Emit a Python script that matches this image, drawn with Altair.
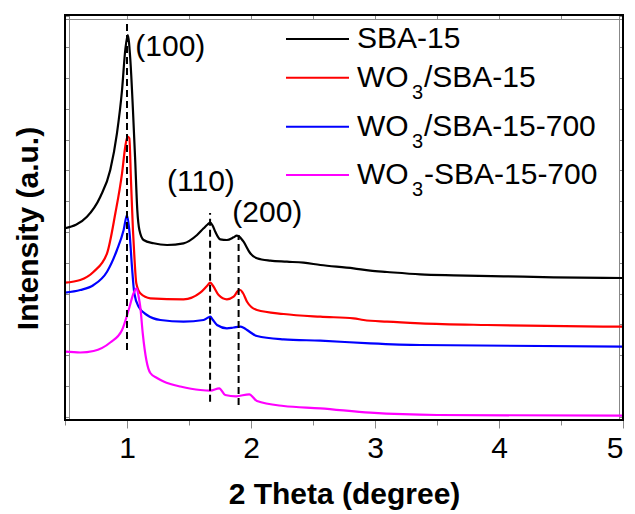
import altair as alt
import pandas as pd

# ---------------- data ----------------
series_names = ["SBA-15", "WO3/SBA-15", "WO3/SBA-15-700", "WO3-SBA-15-700"]
series_colors = ["#000000", "#FF0000", "#0000FF", "#FF00FF"]

sba_x = [0.50, 0.677, 0.785, 0.865, 0.919, 0.96, 0.986, 1.006, 1.027, 1.048, 1.066, 1.083,
         1.10, 1.134, 1.215, 1.323, 1.456, 1.565, 1.618, 1.65, 1.672, 1.69, 1.712, 1.752,
         1.806, 1.86, 1.885, 1.90, 1.92, 1.94, 1.994, 2.048, 2.156, 2.29, 2.424, 2.559,
         2.827, 2.962, 3.097, 3.365, 3.634, 4.037, 4.44, 5.0]
sba_y = [191.7, 203.3, 223.3, 250.0, 286.7, 330.0, 370.0, 385.0, 360.0, 310.0, 260.0, 210.0,
         190.0, 180.0, 176.7, 175.0, 176.7, 185.0, 191.7, 195.5, 197.3, 194.5, 188.3, 180.7,
         180.0, 182.7, 184.3, 184.0, 181.5, 178.3, 166.7, 161.7, 159.3, 158.3, 157.3, 155.0,
         151.7, 149.3, 148.0, 145.7, 144.7, 143.7, 142.7, 142.0]

wo_x = [0.50, 0.623, 0.731, 0.839, 0.906, 0.96, 0.986, 1.004, 1.019, 1.032, 1.048, 1.061,
        1.075, 1.107, 1.188, 1.456, 1.591, 1.645, 1.672, 1.695, 1.739, 1.806, 1.86, 1.895,
        1.914, 1.935, 1.968, 2.048, 2.263, 2.559, 2.827, 2.908, 3.097, 3.365, 3.903, 5.0]
wo_y = [137.3, 140.0, 148.3, 166.7, 206.7, 246.7, 273.3, 283.3, 281.7, 240.0, 190.0, 160.0,
        136.7, 126.7, 121.7, 120.7, 127.3, 134.0, 137.3, 134.0, 125.0, 120.7, 123.3, 129.0,
        130.0, 127.0, 118.3, 110.0, 106.0, 103.3, 101.7, 100.0, 98.3, 96.7, 95.0, 93.3]

wo700_x = [0.50, 0.623, 0.731, 0.839, 0.919, 0.973, 1.0, 1.021, 1.04, 1.059, 1.094, 1.161,
           1.269, 1.456, 1.618, 1.655, 1.672, 1.69, 1.726, 1.806, 1.86, 1.914, 1.94, 1.968,
           2.048, 2.263, 2.559, 2.962, 3.365, 5.0]
wo700_y = [127.3, 130.0, 135.0, 148.3, 170.0, 190.0, 205.0, 186.7, 153.3, 126.7, 113.3, 105.0,
           100.0, 98.3, 100.0, 102.5, 103.3, 100.5, 95.0, 91.7, 92.5, 93.3, 92.3, 90.0,
           84.0, 80.7, 79.3, 76.7, 75.0, 73.3]

wom_x = [0.50, 0.623, 0.731, 0.865, 0.96, 1.013, 1.053, 1.077, 1.094, 1.107, 1.127, 1.156,
         1.188, 1.242, 1.295, 1.35, 1.43, 1.591, 1.672, 1.744, 1.792, 1.88, 1.986, 2.048,
         2.263, 2.559, 2.962, 3.5, 5.0]
wom_y = [68.3, 67.5, 69.0, 77.5, 90.0, 110.0, 126.7, 131.7, 123.3, 113.3, 86.7, 60.0,
         47.0, 42.0, 38.5, 36.0, 33.5, 30.0, 29.3, 31.7, 25.0, 23.7, 25.7, 19.0,
         14.0, 11.7, 7.3, 5.0, 4.3]

# peak guide lines (dashed) and their labels
peak_pos = [1.0, 1.67, 1.9]
peak_lo = [70.0, 18.3, 15.0]
peak_hi = [397.0, 207.0, 185.0]
peak_labels = ["(100)", "(110)", "(200)"]
label_x = [1.067, 1.323, 1.849]
label_y = [373.0, 238.0, 207.0]

x_ticks_major = [1, 2, 3, 4, 5]
x_ticks_minor = [0.5, 1.5, 2.5, 3.5, 4.5]
x_ticks_top = [0.5, 1, 1.5, 2, 2.5, 3, 3.5, 4, 4.5, 5]
y_ticks = [3.3, 34.1, 64.9, 95.7, 126.5, 157.3, 188.1, 218.9, 249.7, 280.5,
           311.3, 342.1, 372.9, 403.7]

# ---------------- tables ----------------
rows = []
for name, xs, ys in zip(series_names, [sba_x, wo_x, wo700_x, wom_x],
                        [sba_y, wo_y, wo700_y, wom_y]):
    for a, b in zip(xs, ys):
        rows.append({"series": name, "theta": a, "intensity": b})
lines_df = pd.DataFrame(rows)
peaks_df = pd.DataFrame({"pos": peak_pos, "lo": peak_lo, "hi": peak_hi})
labels_df = pd.DataFrame({"x": label_x, "y": label_y, "text": peak_labels})

FONT = "Liberation Sans"
W, H = 558, 405

xscale = alt.Scale(domain=[0.5, 5], nice=False, zero=False)
yscale = alt.Scale(domain=[0, 405], nice=False, zero=False)

lines = alt.Chart(lines_df).mark_line(strokeWidth=2.2, interpolate="monotone").encode(
    x=alt.X("theta:Q", scale=xscale,
            axis=alt.Axis(orient="bottom", values=x_ticks_major, format="d", grid=False,
                          tickSize=8, labelPadding=5, labelFontSize=30,
                          title="2 Theta (degree)", titleFontSize=30,
                          titleFontWeight="bold", titleY=83,
                          titleBaseline="alphabetic")),
    y=alt.Y("intensity:Q", scale=yscale,
            axis=alt.Axis(orient="left", offset=-4, tickSize=4, values=y_ticks, grid=False,
                          labels=False, title="Intensity (a.u.)", titleFontSize=30,
                          titleFontWeight="bold", titleAngle=-90, titleX=-32,
                          titleY=213, titleBaseline="alphabetic", titleAlign="center")),
    color=alt.Color("series:N", scale=alt.Scale(domain=series_names, range=series_colors),
                    legend=None),
    order=alt.Order("theta:Q"),
)

dashes = alt.Chart(peaks_df).mark_rule(strokeWidth=2, strokeDash=[7, 4], color="black").encode(
    x=alt.X("pos:Q", scale=xscale,
            axis=alt.Axis(orient="bottom", values=x_ticks_minor, tickSize=5, grid=False,
                          labels=False, title=None)),
    y=alt.Y("lo:Q", scale=yscale,
            axis=alt.Axis(orient="right", offset=-4, tickSize=4, values=y_ticks, grid=False,
                          labels=False, title=None)),
    y2="hi:Q",
)

peak_text = alt.Chart(labels_df).mark_text(
    font=FONT, fontSize=30, align="left", baseline="middle", color="black"
).encode(
    x=alt.X("x:Q", scale=xscale,
            axis=alt.Axis(orient="top", offset=-4, tickSize=4, values=x_ticks_top, grid=False,
                          labels=False, title=None)),
    y=alt.Y("y:Q", scale=yscale, axis=None),
    text="text:N",
)

# frame drawn as a rectangle over the plot area
frame = alt.Chart(pd.DataFrame({"k": [0]})).mark_rect(
    fill=None, stroke="black", strokeWidth=2
).encode(x=alt.value(0), x2=alt.value(W), y=alt.value(0), y2=alt.value(H))

# ---------------- manual legend ----------------
leg_rows_y = [24, 62.7, 111.7, 160]
leg_parts = [
    [("SBA-15", 292, 30, 0)],
    [("WO", 292, 30, 0), ("3", 347, 20, 15), ("/SBA-15", 359, 30, 0)],
    [("WO", 292, 30, 0), ("3", 347, 20, 15), ("/SBA-15-700", 359, 30, 0)],
    [("WO", 292, 30, 0), ("3", 347, 20, 15), ("-SBA-15-700", 359, 30, 0)],
]
legend_layers = []
one = pd.DataFrame({"k": [0]})
for ry, color, parts in zip(leg_rows_y, series_colors, leg_parts):
    legend_layers.append(
        alt.Chart(one).mark_rule(strokeWidth=2, color=color).encode(
            x=alt.value(221), x2=alt.value(284), y=alt.value(ry))
    )
    for txt, tx, fs, dy in parts:
        legend_layers.append(
            alt.Chart(one).mark_text(font=FONT, fontSize=fs, align="left",
                                     baseline="middle", color="black", text=txt).encode(
                x=alt.value(tx), y=alt.value(ry + dy))
        )

chart = alt.layer(lines, dashes, peak_text, frame, *legend_layers).resolve_axis(
    x="independent", y="independent"
).properties(
    width=W, height=H,
    autosize=alt.AutoSizeParams(type="none"),
    padding={"left": 65, "top": 15, "right": 12, "bottom": 94},
).configure_view(
    stroke=None
).configure_axis(
    domain=False, grid=False, tickColor="black", tickWidth=2,
    labelColor="black", titleColor="black", labelFont=FONT, titleFont=FONT,
).configure(background="white")

chart.save("out.html", embed_options={"renderer": "svg", "actions": False})
